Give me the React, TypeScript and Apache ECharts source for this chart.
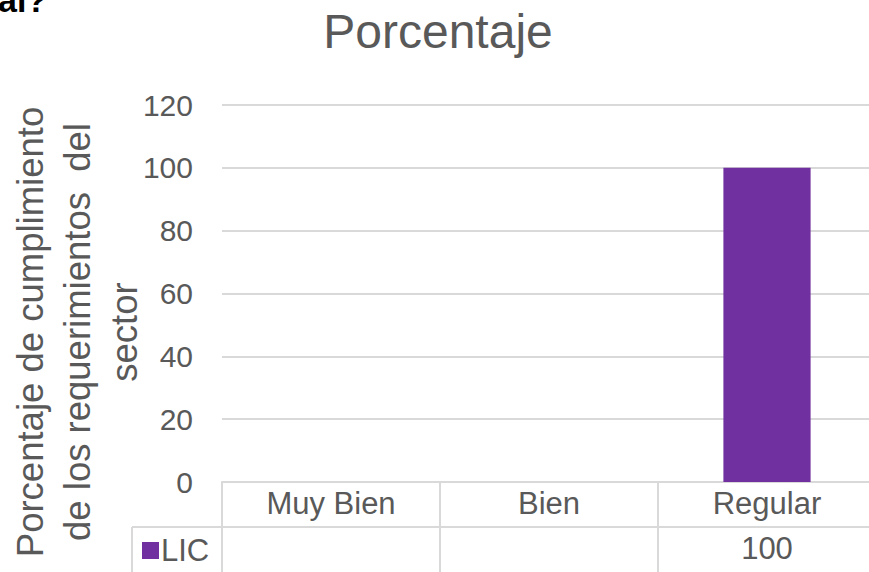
import React, { useEffect, useRef } from "react";
import * as echarts from "echarts";

const categories = ["Muy Bien", "Bien", "Regular"];
const seriesName = "LIC";
const values: (number | null)[] = [null, null, 100];
const yTicks = { min: 0, max: 120, interval: 20 };
const titleText = "Porcentaje";
const yAxisName = ["Porcentaje de cumplimiento", "de los requerimientos  del", "sector"];
const headingFragment = "al?";

const FONT = "'Liberation Sans', Arial, sans-serif";
const GREY = "#595959";
const LINE = "#d9d9d9";
const PURPLE = "#7030a0";

export default function App() {
  const ref = useRef<HTMLDivElement>(null);
  useEffect(() => {
    if (!ref.current) return;
    const chart = echarts.init(ref.current, undefined, { renderer: "svg" });
    const valueLabels = values.map((v) => (v == null ? "" : String(v)));
    chart.setOption({
      animation: false,
      backgroundColor: "#ffffff",
      textStyle: { fontFamily: FONT },
      title: {
        text: titleText,
        left: 433,
        top: 2,
        textAlign: "center",
        textStyle: { fontFamily: FONT, fontSize: 48, fontWeight: "normal", color: GREY },
      },
      legend: {
        data: [seriesName],
        left: 137,
        top: 530,
        icon: "rect",
        itemWidth: 17,
        itemHeight: 17,
        itemGap: 0,
        textStyle: { fontFamily: FONT, fontSize: 31, color: GREY, padding: [0, 0, 0, -3] },
      },
      grid: { left: 222, top: 105, width: 654, height: 377 },
      xAxis: [
        {
          type: "category",
          data: categories,
          position: "bottom",
          axisLine: { show: true, lineStyle: { color: LINE, width: 2 } },
          axisTick: { show: true, length: 45, interval: 0, lineStyle: { color: LINE, width: 2 } },
          axisLabel: { interval: 0, margin: 6, fontFamily: FONT, fontSize: 31, color: GREY },
          splitLine: { show: false },
        },
        {
          type: "category",
          data: valueLabels,
          position: "bottom",
          offset: 45,
          axisLine: { show: true, lineStyle: { color: LINE, width: 2 } },
          axisTick: { show: true, length: 45, interval: 0, lineStyle: { color: LINE, width: 2 } },
          axisLabel: { interval: 0, margin: 6, fontFamily: FONT, fontSize: 31, color: GREY },
          splitLine: { show: false },
        },
      ],
      yAxis: {
        type: "value",
        min: yTicks.min,
        max: yTicks.max,
        interval: yTicks.interval,
        axisLine: { show: false },
        axisTick: { show: false },
        axisLabel: { margin: 29, fontFamily: FONT, fontSize: 30, color: GREY },
        splitLine: { show: true, lineStyle: { color: LINE, width: 2 } },
      },
      series: [
        {
          name: seriesName,
          type: "bar",
          data: values,
          barWidth: "40%",
          itemStyle: { color: PURPLE },
        },
      ],
      graphic: [
        {
          type: "text",
          left: -2,
          top: -17,
          style: { text: headingFragment, font: `bold 34px ${FONT}`, fill: "#000000" },
        },
        {
          type: "text",
          x: 77,
          y: 332,
          rotation: Math.PI / 2,
          style: {
            text: yAxisName.join("\n"),
            font: `36.5px ${FONT}`,
            fill: GREY,
            align: "center",
            verticalAlign: "middle",
            lineHeight: 47,
          },
        },
        {
          type: "line",
          shape: { x1: 132, y1: 527, x2: 222, y2: 527 },
          style: { stroke: LINE, lineWidth: 2 },
        },
        {
          type: "line",
          shape: { x1: 132, y1: 527, x2: 132, y2: 580 },
          style: { stroke: LINE, lineWidth: 2 },
        },
      ],
    });
    return () => chart.dispose();
  }, []);
  return (
    <div
      style={{ position: "fixed", left: 0, top: 0, width: 869, height: 572, overflow: "hidden", background: "#fff" }}
    >
      <div ref={ref} style={{ width: 880, height: 572 }} />
    </div>
  );
}
